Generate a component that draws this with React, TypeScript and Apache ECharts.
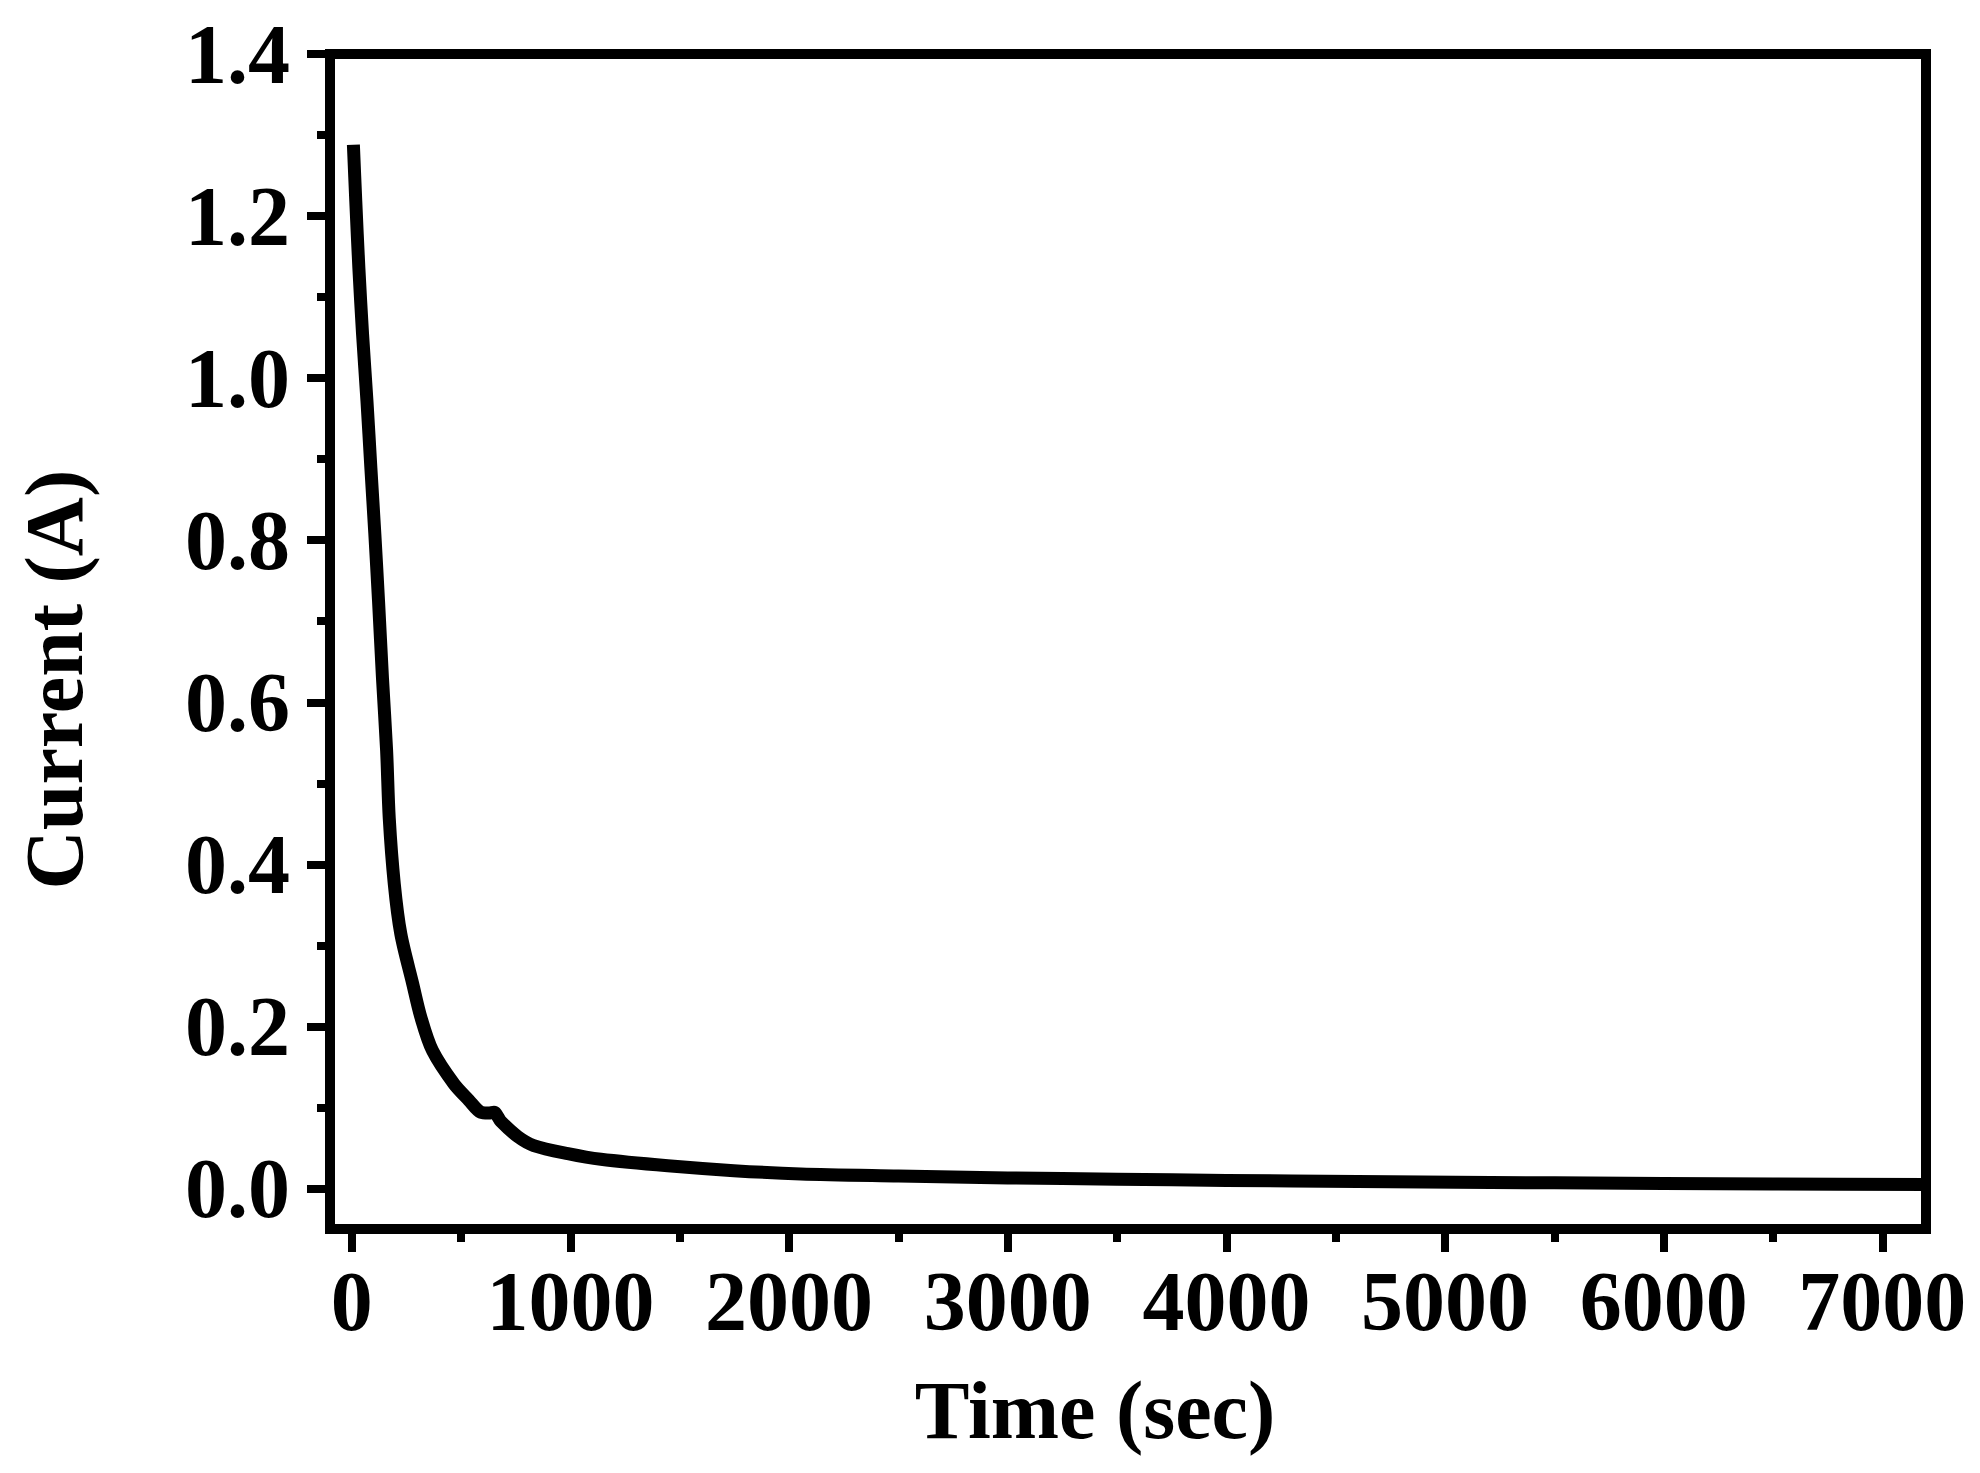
import React, { useEffect, useRef } from "react";
import * as echarts from "echarts";

// Chronoamperometry data
const timeSec = [
  7, 18, 32, 49, 69, 87, 105, 122, 140, 159, 171, 194, 224, 278, 316, 369,
  467, 535, 590, 625, 650, 681, 759, 832, 988, 1139, 1445, 1747, 2053, 2500,
  3000, 3500, 4000, 4600, 5500, 6500, 7200,
];
const currentA = [
  1.288, 1.218, 1.136, 1.054, 0.972, 0.889, 0.808, 0.725, 0.63, 0.54, 0.457,
  0.376, 0.314, 0.253, 0.211, 0.17, 0.129, 0.109, 0.094, 0.093, 0.094,
  0.083, 0.064, 0.053, 0.043, 0.036, 0.028, 0.022, 0.018, 0.0155, 0.013,
  0.0115, 0.01, 0.0085, 0.007, 0.0055, 0.005,
];

const xMajorTicks = [0, 1000, 2000, 3000, 4000, 5000, 6000, 7000];
const xMinorTicks = [500, 1500, 2500, 3500, 4500, 5500, 6500];
const yMajorTicks = [0, 0.2, 0.4, 0.6, 0.8, 1.0, 1.2, 1.4];
const yMinorTicks = [0.1, 0.3, 0.5, 0.7, 0.9, 1.1, 1.3];

const xName = "Time (sec)";
const yName = "Current (A)";

const FONT = '"Liberation Serif", "Times New Roman", Times, serif';

export default function App() {
  const ref = useRef<HTMLDivElement>(null);

  useEffect(() => {
    if (!ref.current) return;
    const chart = echarts.init(ref.current, undefined, { renderer: "svg" });
    const labelStyle = {
      fontFamily: FONT,
      fontWeight: "bold" as const,
      fontSize: 84,
      color: "#000",
    };
    chart.setOption({
      animation: false,
      backgroundColor: "#fff",
      grid: {
        left: 330,
        right: 54,
        top: 54,
        bottom: 244,
        show: true,
        borderColor: "#000",
        borderWidth: 10,
        containLabel: false,
        outerBoundsMode: "none",
      },
      xAxis: [
        {
          type: "value",
          position: "bottom",
          min: -100,
          max: 7200,
          axisLine: { show: true, onZero: false, lineStyle: { color: "#000", width: 10 } },
          axisTick: {
            show: true,
            customValues: xMajorTicks,
            length: 23,
            lineStyle: { color: "#000", width: 8 },
          },
          axisLabel: {
            show: true,
            customValues: xMajorTicks,
            margin: 30,
            ...labelStyle,
            formatter: (v: number) => String(v),
          },
          splitLine: { show: false },
          name: xName,
          nameLocation: "middle",
          nameGap: 140,
          nameTextStyle: { ...labelStyle, fontSize: 82, padding: [0, 66, 0, 0] },
        },
        {
          type: "value",
          position: "bottom",
          min: -100,
          max: 7200,
          axisLine: { show: false, onZero: false },
          axisTick: {
            show: true,
            customValues: xMinorTicks,
            length: 13,
            lineStyle: { color: "#000", width: 8 },
          },
          axisLabel: { show: false },
          splitLine: { show: false },
        },
      ],
      yAxis: [
        {
          type: "value",
          position: "left",
          min: -0.05,
          max: 1.4,
          axisLine: { show: true, onZero: false, lineStyle: { color: "#000", width: 10 } },
          axisTick: {
            show: true,
            customValues: yMajorTicks,
            length: 23,
            lineStyle: { color: "#000", width: 8 },
          },
          axisLabel: {
            show: true,
            customValues: yMajorTicks,
            margin: 40,
            ...labelStyle,
            formatter: (v: number) => v.toFixed(1),
          },
          splitLine: { show: false },
          name: yName,
          nameLocation: "middle",
          nameGap: 235,
          nameTextStyle: { ...labelStyle, fontSize: 82, padding: [0, 76, 0, 0] },
        },
        {
          type: "value",
          position: "left",
          min: -0.05,
          max: 1.4,
          axisLine: { show: false, onZero: false },
          axisTick: {
            show: true,
            customValues: yMinorTicks,
            length: 13,
            lineStyle: { color: "#000", width: 8 },
          },
          axisLabel: { show: false },
          splitLine: { show: false },
        },
      ],
      series: [
        {
          type: "line",
          xAxisIndex: 0,
          yAxisIndex: 0,
          data: timeSec.map((t, i) => [t, currentA[i]]),
          showSymbol: false,
          symbol: "none",
          smooth: 0.3,
          lineStyle: { color: "#000", width: 13, join: "round" },
          clip: true,
        },
      ],
    });
    return () => chart.dispose();
  }, []);

  return (
    <div
      ref={ref}
      style={{ position: "absolute", left: 0, top: 0, width: 1980, height: 1473 }}
    />
  );
}
